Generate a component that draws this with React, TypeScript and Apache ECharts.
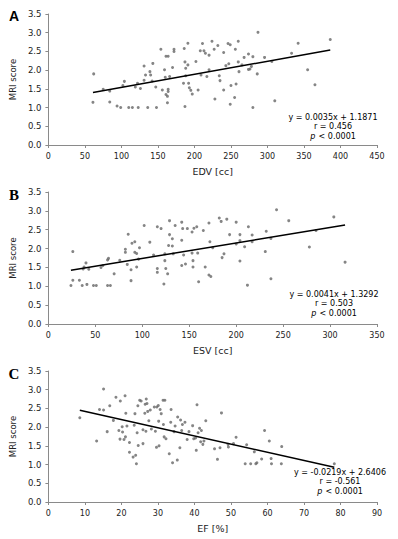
import React, { useEffect, useRef } from "react";
import * as echarts from "echarts";

// ---- Data ----
const edvPoints: [number, number][] = [
  [62,1.90],[61,1.14],[75,1.49],[84,1.44],[84,1.15],[94,1.04],[99,1.00],[102,1.59],[104,1.70],[110,1.00],
  [115,1.00],[119,1.55],[123,1.00],[122,1.65],[126,1.51],[131,2.11],[133,1.87],[131,1.73],[136,1.00],[139,1.96],
  [140,1.87],[143,2.18],[142,1.71],[147,1.55],[148,1.00],[154,2.56],[156,1.47],[159,2.01],[160,1.81],[161,2.37],
  [164,2.37],[161,1.35],[163,1.30],[163,1.13],[164,1.49],[164,1.43],[166,1.83],[170,2.07],[172,2.56],[172,2.50],
  [186,2.58],[187,2.22],[188,2.05],[188,1.85],[187,1.03],[185,1.65],[191,2.72],[191,2.14],[192,1.65],[193,1.53],
  [195,1.46],[197,1.36],[202,2.23],[205,1.47],[208,2.52],[209,1.87],
  [211,2.71],[213,2.52],[215,2.45],[220,2.40],[224,2.77],[227,2.56],[232,2.66],[240,2.47],[246,2.71],[249,2.68],
  [256,2.56],[260,2.77],[260,2.22],[265,2.14],[268,2.34],[274,2.43],[280,2.36],[287,3.01],[296,2.34],[306,2.23],
  [333,2.45],[342,2.72],[355,2.01],[365,1.61],[386,2.82],[217,1.83],[220,2.01],[234,1.85],[235,1.72],[240,1.47],
  [243,2.12],[247,2.17],[250,1.59],[257,1.63],[255,1.27],[249,1.09],[228,1.23],[261,1.96],[276,2.03],[278,2.10],
  [274,2.02],[286,1.90],[280,1.00],[310,1.18],
];

const esvPoints: [number, number][] = [
  [26,1.92],[24,1.02],[26,1.16],[33,1.16],[36,1.02],[37,1.46],[38,1.51],[40,1.62],[41,1.05],[43,1.45],
  [48,1.02],[51,1.02],[56,1.50],[58,1.55],[63,1.70],[64,1.74],[63,1.02],[66,1.02],[70,1.33],[76,1.69],
  [82,1.90],[82,1.98],[85,2.38],[84,1.58],[88,1.44],[88,1.15],[89,2.14],[92,2.18],[92,1.90],[94,1.87],
  [94,1.51],[96,1.72],[97,2.02],[102,2.61],[108,2.17],[112,1.83],[116,2.58],[116,1.47],[116,1.37],[120,2.53],
  [124,1.86],[123,1.06],[124,1.68],[125,1.47],[127,1.33],[128,2.08],[129,2.74],[129,2.37],[132,2.26],[132,2.07],
  [133,1.86],[135,2.61],[142,2.22],[142,2.70],[142,1.55],[143,2.53],[144,1.83],[146,1.59],[148,2.53],[153,1.88],
  [153,2.44],[154,1.68],[154,1.51],[155,2.54],[158,2.58],[160,1.12],[159,1.88],
  [165,2.48],[171,2.68],[167,1.51],[171,1.30],[173,1.26],[172,2.18],[175,2.02],[182,2.81],[184,2.72],[190,2.78],
  [185,1.76],[187,1.86],[193,2.37],[200,2.12],[200,2.70],[204,2.37],[204,2.21],[204,1.67],[209,2.05],[212,1.03],
  [213,2.58],[217,2.36],[217,2.18],[231,1.92],[232,2.46],[237,2.27],[237,1.20],[243,3.03],[256,2.74],[278,2.04],
  [285,2.48],[304,2.84],[316,1.64],
];

const efPoints: [number, number][] = [
  [8.6,2.25],[13.2,1.63],[14,2.47],[15.1,3.02],[15.1,2.46],[16.1,1.88],[16.8,2.57],[17.8,2.18],[18.5,2.80],[19.3,1.91],
  [19.7,2.70],[19.6,1.68],[20.2,2.01],[20.3,1.87],[20.7,1.67],[21,2.84],[21.1,1.74],[21.2,2.37],[21.5,2.03],[22.2,1.59],
  [22.2,1.33],[23.2,1.20],[23.5,2.05],[23.7,2.36],[23.9,1.25],[24.1,1.02],[24.3,1.85],[24.5,2.57],[24.6,1.51],[25,2.72],
  [25.4,2.70],[25.9,1.56],[25.9,1.93],[26.4,2.37],[26.5,2.61],[26.7,1.89],[26.8,2.75],[27,2.63],[27.2,2.42],[27.5,2.17],
  [27.9,2.46],[28.2,1.95],[29,2.54],[29.3,1.89],[29.6,1.46],[29.7,2.54],[30.1,2.58],[30.2,2.16],[30.3,1.50],[30.6,2.47],
  [30.9,2.36],[31.4,2.72],[31.9,2.72],[31.5,2.07],[31.7,1.74],[32.2,1.69],[33.1,1.29],[33.6,2.47],[33.5,2.13],[34,1.05],
  [34.4,1.88],[34.7,2.03],[35.3,1.12],[35.4,2.27],[36,1.45],[36.2,2.19],[36.5,1.91],[36.7,2.07],[37.4,2.13],[38,1.67],
  [38.5,1.88],[39.5,2.04],[39.8,1.69],[40.3,1.71],[40.5,1.38],[40.7,2.60],[41,1.85],[41.4,1.97],[41.7,1.61],[41.9,1.91],
  [43.1,2.17],[42.6,1.63],[42.3,1.54],[45.5,1.42],[46.3,1.14],[47,1.45],[47.4,2.38],[49.2,1.54],[49.3,1.47],[50.7,1.56],
  [51.4,1.73],[53.9,1.02],[54.3,1.53],[55.4,1.02],[56.4,1.34],[56.8,1.02],[57.1,1.05],[58.4,1.15],[59.2,1.91],[60.5,1.63],
  [61,1.16],[61.1,1.02],[63.8,1.02],[63.9,1.48],[78.3,1.02],
];

const panelPoints = [edvPoints, esvPoints, efPoints];
const slopes = [0.0035, 0.0041, -0.0219];
const intercepts = [1.1871, 1.3292, 2.6406];
const equationTexts = ["y = 0.0035x + 1.1871", "y = 0.0041x + 1.3292", "y = -0.0219x + 2.6406"];
const rTexts = ["r = 0.456", "r = 0.503", "r = -0.561"];
const pText = "< 0.0001";
const xNames = ["EDV [cc]", "ESV [cc]", "EF [%]"];
const xMaxes = [450, 350, 90];
const xIntervals = [50, 50, 10];
const panelLetters = ["A", "B", "C"];
const yName = "MRI score";
const yMax = 3.5;
const yInterval = 0.5;

// ---- Layout ----
const grids = [
  { left: 46, top: 14, width: 331, height: 131 },
  { left: 45, top: 192, width: 332, height: 132 },
  { left: 45, top: 371, width: 332, height: 131 },
];
const eqPos = [
  { x: 333, y: 117 },
  { x: 334, y: 294 },
  { x: 340, y: 472 },
];
const letterPos = [
  { x: 14, y: 16, font: "bold 14px 'Liberation Sans', Arial, sans-serif" },
  { x: 14, y: 195, font: "bold 15px 'Liberation Serif', 'Times New Roman', serif" },
  { x: 14, y: 374, font: "bold 15px 'Liberation Serif', 'Times New Roman', serif" },
];

const FONT = "'DejaVu Sans', Verdana, sans-serif";
const AXIS_GREY = "#8a8a8a";
const TEXT = "#222";

export default function App() {
  const ref = useRef<HTMLDivElement>(null);

  useEffect(() => {
    if (!ref.current) return;
    const chart = echarts.init(ref.current, undefined, { renderer: "svg" });

    const xAxis = grids.map((_, i) => ({
      type: "value" as const,
      gridIndex: i,
      min: 0,
      max: xMaxes[i],
      interval: xIntervals[i],
      name: xNames[i],
      nameLocation: "middle" as const,
      nameGap: 21,
      nameTextStyle: { fontFamily: FONT, fontSize: 9.5, color: TEXT },
      axisLine: { show: true, lineStyle: { color: AXIS_GREY, width: 1 } },
      axisTick: { show: true, inside: false, length: 3, lineStyle: { color: AXIS_GREY } },
      axisLabel: { fontFamily: FONT, fontSize: 8, color: TEXT, margin: 7 },
      splitLine: { show: false },
    }));

    const yAxis = grids.map((_, i) => ({
      type: "value" as const,
      gridIndex: i,
      min: 0,
      max: yMax,
      interval: yInterval,
      name: yName,
      nameLocation: "middle" as const,
      nameGap: 24,
      nameTextStyle: { fontFamily: FONT, fontSize: 8.5, color: TEXT },
      axisLine: { show: true, lineStyle: { color: AXIS_GREY, width: 1 } },
      axisTick: { show: true, inside: false, length: 3, lineStyle: { color: AXIS_GREY } },
      axisLabel: {
        fontFamily: FONT,
        fontSize: 8.5,
        color: TEXT,
        margin: 7,
        formatter: (v: number) => v.toFixed(1),
      },
      splitLine: { show: false },
    }));

    const series: any[] = [];
    panelPoints.forEach((pts, i) => {
      series.push({
        type: "scatter",
        xAxisIndex: i,
        yAxisIndex: i,
        data: pts,
        symbol: "circle",
        symbolSize: 3,
        itemStyle: { color: "#666" },
        silent: true,
      });
      const xs = pts.map((p) => p[0]);
      const x0 = Math.min(...xs);
      const x1 = Math.max(...xs);
      series.push({
        type: "line",
        xAxisIndex: i,
        yAxisIndex: i,
        data: [
          [x0, slopes[i] * x0 + intercepts[i]],
          [x1, slopes[i] * x1 + intercepts[i]],
        ],
        symbol: "none",
        lineStyle: { color: "#000", width: 1.5 },
        silent: true,
      });
    });

    const graphic: any[] = [];
    grids.forEach((_, i) => {
      graphic.push({
        type: "text",
        x: letterPos[i].x,
        y: letterPos[i].y,
        style: {
          text: panelLetters[i],
          font: letterPos[i].font,
          fill: "#000",
          align: "center",
          verticalAlign: "middle",
        },
      });
      const eqLines = [equationTexts[i], rTexts[i]];
      eqLines.forEach((t, j) => {
        graphic.push({
          type: "text",
          x: eqPos[i].x,
          y: eqPos[i].y + j * 9.6,
          style: {
            text: t,
            font: `8px ${FONT}`,
            fill: "#000",
            align: "center",
            verticalAlign: "middle",
          },
        });
      });
      graphic.push({
        type: "text",
        x: eqPos[i].x,
        y: eqPos[i].y + 2 * 9.6,
        style: {
          text: `{i|p} {n|${pText}}`,
          fill: "#000",
          align: "center",
          verticalAlign: "middle",
          rich: {
            i: { fontFamily: FONT, fontSize: 8, fontStyle: "italic", fill: "#000" },
            n: { fontFamily: FONT, fontSize: 8, fill: "#000" },
          },
        },
      });
    });

    chart.setOption({
      animation: false,
      backgroundColor: "#fff",
      grid: grids.map((g) => ({ ...g, containLabel: false })),
      xAxis,
      yAxis,
      series,
      graphic,
    });

    return () => chart.dispose();
  }, []);

  return (
    <div
      ref={ref}
      style={{ position: "fixed", left: 0, top: 0, width: 398, height: 539, background: "#fff" }}
    />
  );
}
